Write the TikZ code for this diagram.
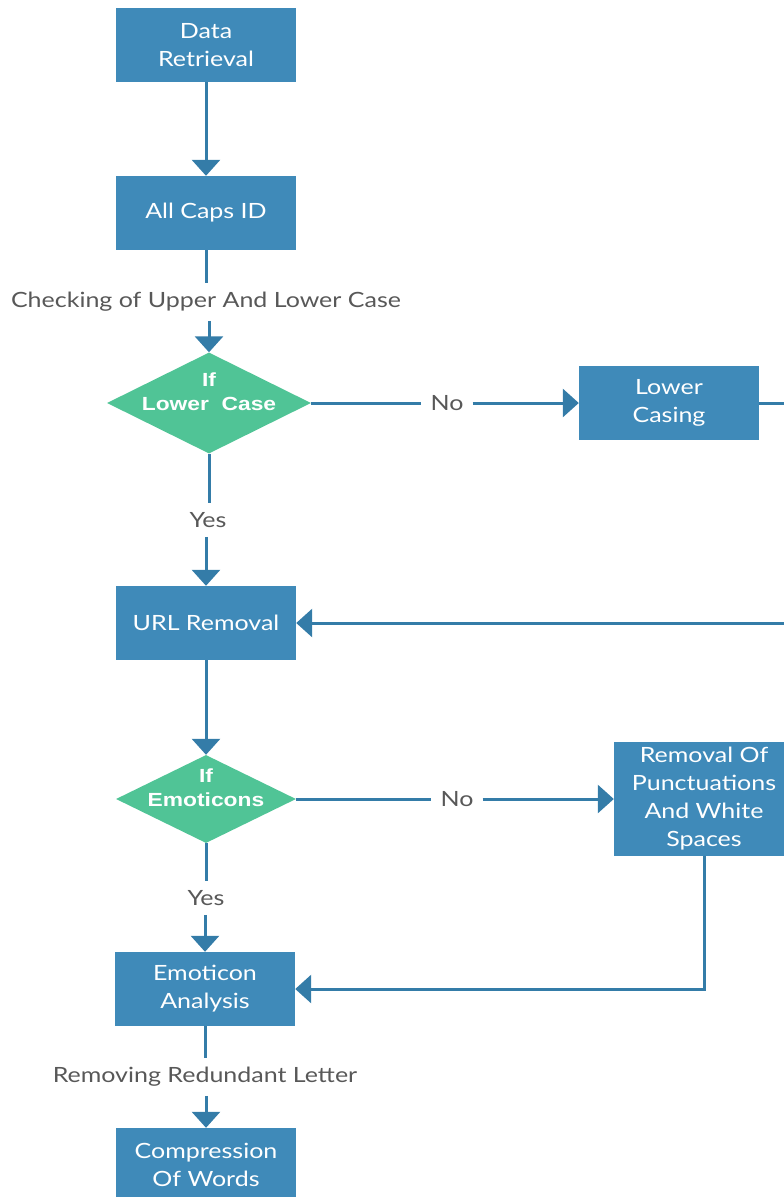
\documentclass[tikz,border=0pt]{standalone}
\usepackage{fontspec}
\setmainfont{Lato}[FakeStretch=1.19]
\newfontfamily\decfont{Liberation Sans}[FakeStretch=1.2]
\usetikzlibrary{shapes.geometric,arrows.meta}
\definecolor{boxblue}{RGB}{63,138,185}
\definecolor{lineblue}{RGB}{52,124,168}
\definecolor{decgreen}{RGB}{80,196,150}
\definecolor{lblgrey}{RGB}{88,88,88}

\begin{document}
\begin{tikzpicture}[
  x=1pt, y=-1pt,
  font=\fontsize{21}{28}\selectfont,
  proc/.style={rectangle, fill=boxblue, text=white, minimum width=180pt, minimum height=74pt, align=center, inner sep=2pt},
  dec/.style={diamond, fill=decgreen, inner sep=0pt},
  dectext/.style={text=white, font=\decfont\bfseries\fontsize{19}{24}\selectfont, align=center, inner sep=0pt},
  edge/.style={-{Triangle[width=28pt,length=16pt]}, line width=3pt, draw=lineblue},
  line/.style={line width=3pt, draw=lineblue},
  lbl/.style={text=lblgrey, inner sep=9pt}
]
\useasboundingbox (0,0) rectangle (784,1197);

%======================
% MAIN COLUMN
%======================

% boxes
\node[proc] (data) at (206,45) {Data\\Retrieval};
\node[proc] (caps) at (206,213) {All Caps ID};
\node[proc] (url) at (206,623) {URL Removal};
\node[proc] (emoan) at (205,989) {Emoticon\\Analysis};
\node[proc] (comp) at (206,1165) {Compression\\Of Words};

% decisions
\node[dec, minimum width=204pt, minimum height=101pt,
  label={[dectext, yshift=11pt]center:{If\\Lower~~Case}}] (lcdec) at (209,403) {};
\node[dec, minimum width=180pt, minimum height=88pt,
  label={[dectext, yshift=11pt]center:{If\\Emoticons}}] (emodec) at (206,799) {};

% side boxes
\node[proc] (lower) at (669,403) {Lower\\Casing};
\node[proc, minimum height=114pt] (punct) at (704,799) {Removal Of\\Punctuations\\And White\\Spaces};

% edge labels
\node[lbl] (chk) at (206,302) {Checking of Upper And Lower Case};
\node[lbl] (yes1) at (208,520) {Yes};
\node[lbl] (no1) at (447,403) {No};
\node[lbl] (yes2) at (206,898) {Yes};
\node[lbl] (no2) at (457,799) {No};
\node[lbl] (redund) at (205,1077) {Removing Redundant Letter};

% off-page turn of the loop back
\coordinate (turn) at (830,403);

%======================
% CONNECTORS
%======================

\draw[edge] (data) -- (caps);

% caps -> lower case check
\draw[line] (caps.south) -- (chk.north -| caps.south);
\draw[edge] (chk.south -| lcdec.north) -- (lcdec.north);

% lower case check: yes / no
\draw[line] (lcdec.south) -- (yes1.north -| lcdec.south);
\draw[edge] (yes1.south -| url.north) -- (url.north);
\draw[line] (lcdec.east) -- (no1.west);
\draw[edge] (no1.east) -- (lower.west);

% lower casing back to url removal
\draw[edge] (lower.east) -- (turn) |- (url.east);

% url -> emoticon check
\draw[edge] (url.south) -- ++(0,45) -| (emodec.north);

% emoticon check: yes / no
\draw[line] (emodec.south) -- (yes2.north -| emodec.south);
\draw[edge] (yes2.south -| emoan.north) -- (emoan.north);
\draw[line] (emodec.east) -- (no2.west);
\draw[edge] (no2.east) -- (punct.west);

% punctuation removal back to analysis
\draw[edge] (punct.south) |- (emoan.east);

% analysis -> compression
\draw[line] (emoan.south) -- (redund.north -| emoan.south);
\draw[edge] (redund.south -| comp.north) -- (comp.north);

\end{tikzpicture}
\end{document}
